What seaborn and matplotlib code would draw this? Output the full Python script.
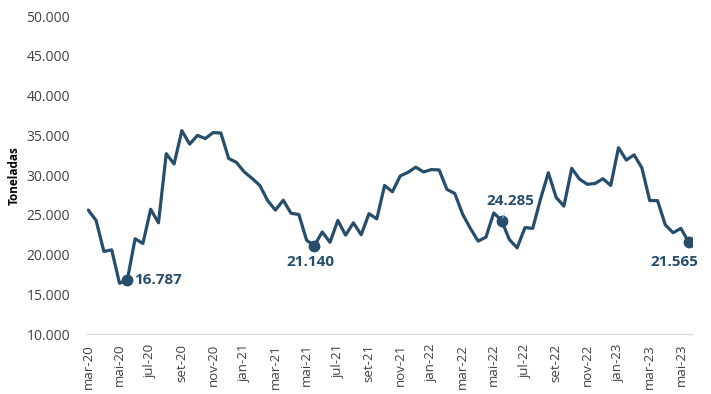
import pandas as pd
import seaborn as sns
import matplotlib.pyplot as plt
from matplotlib.ticker import FuncFormatter

# semi-monthly values, mar-20 .. mai-23 (2 points per month)
toneladas = [25600, 24300, 20400, 20600, 16400, 16787, 22000, 21400, 25700, 24000,
             32700, 31400, 35600, 33900, 35000, 34600, 35350, 35300, 32100, 31600,
             30400, 29600, 28700, 26800, 25600, 26850, 25200, 25050, 21800, 21140,
             22850, 21550, 24300, 22450, 24000, 22500, 25150, 24500, 28700, 27900,
             29900, 30350, 31000, 30400, 30700, 30650, 28200, 27700, 25100, 23300,
             21700, 22200, 25250, 24285, 21900, 20850, 23400, 23300, 27000, 30300,
             27200, 26100, 30850, 29500, 28850, 28950, 29550, 28700, 33450, 31900,
             32550, 30900, 26800, 26800, 23750, 22750, 23300, 21565]
month_labels = ['mar-20', 'mai-20', 'jul-20', 'set-20', 'nov-20', 'jan-21', 'mar-21',
                'mai-21', 'jul-21', 'set-21', 'nov-21', 'jan-22', 'mar-22', 'mai-22',
                'jul-22', 'set-22', 'nov-22', 'jan-23', 'mar-23', 'mai-23']
highlight_idx = [5, 29, 53, 77]

df = pd.DataFrame({'periodo': range(len(toneladas)), 'toneladas': toneladas})

sns.set_style('white')
plt.rcParams['font.family'] = ['Open Sans', 'DejaVu Sans']

line_color = '#264d6b'
text_color = '#404040'

fig = plt.figure(figsize=(7.11, 3.94), dpi=100)
ax = fig.add_axes([0.122, 0.152, 0.851, 0.807])

sns.lineplot(data=df, x='periodo', y='toneladas', color=line_color, linewidth=2.3, ax=ax)

hl = df.iloc[highlight_idx]
ax.plot(hl['periodo'], hl['toneladas'], 'o', color=line_color, markersize=7.5, zorder=3)

def fmt(v):
    return f'{v:,.0f}'.replace(',', '.')

# annotations
ax.annotate(fmt(toneladas[5]), (5, toneladas[5]), xytext=(5, 0), textcoords='offset points',
            ha='left', va='center', fontsize=11, fontweight='bold', color=line_color)
ax.annotate(fmt(toneladas[29]), (29, toneladas[29]), xytext=(-3, -7), textcoords='offset points',
            ha='center', va='top', fontsize=11, fontweight='bold', color=line_color)
ax.annotate(fmt(toneladas[53]), (53, toneladas[53]), xytext=(6, 9), textcoords='offset points',
            ha='center', va='bottom', fontsize=11, fontweight='bold', color=line_color,
            arrowprops=dict(arrowstyle='-', color='#9fb3c3', lw=0.8))
ax.annotate(fmt(toneladas[77]), (77, toneladas[77]), xytext=(-10, -9), textcoords='offset points',
            ha='center', va='top', fontsize=11, fontweight='bold', color=line_color)

ax.set_ylim(10000, 50000)
ax.set_yticks(range(10000, 50001, 5000))
ax.yaxis.set_major_formatter(FuncFormatter(lambda v, p: fmt(v)))
ax.set_xlim(-0.2, 77.4)
ax.set_xticks(range(0, 77, 4))
ax.set_xticklabels(month_labels, rotation=90)

ax.set_xlabel('')
ax.set_ylabel('Toneladas', fontsize=8.5, fontweight='bold', color='black', labelpad=4)

ax.tick_params(axis='x', length=4, width=0.8, color='#d9d9d9', labelsize=9.5,
               labelcolor=text_color, pad=3)
ax.tick_params(axis='y', length=0, labelsize=10, labelcolor=text_color, pad=12)

for s in ['top', 'right', 'left']:
    ax.spines[s].set_visible(False)
ax.spines['bottom'].set_color('#d9d9d9')
ax.spines['bottom'].set_linewidth(0.9)
ax.grid(False)

fig.savefig('out.png', dpi=100)
